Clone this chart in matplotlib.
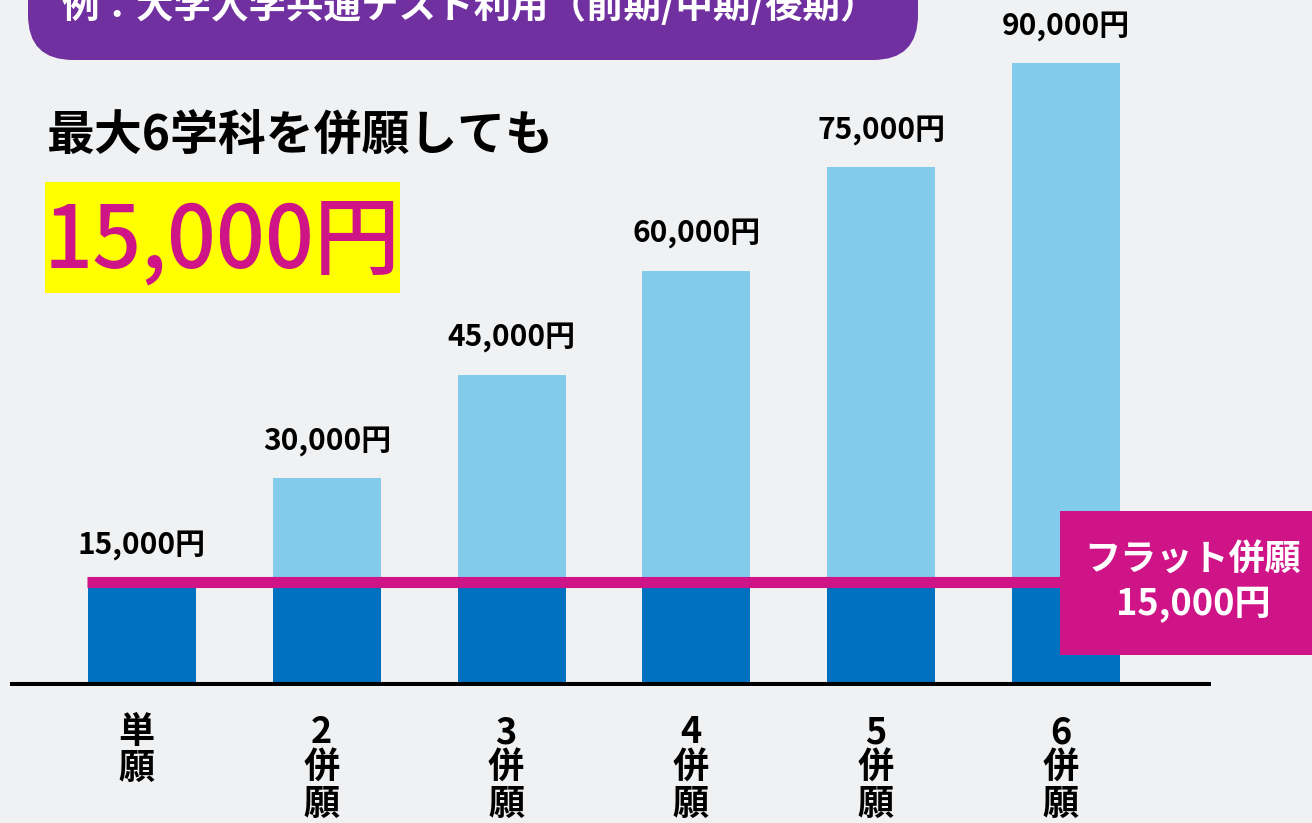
import matplotlib
matplotlib.use('Agg')
import matplotlib.pyplot as plt
from matplotlib.patches import Rectangle, FancyBboxPatch
import numpy as np

plt.rcParams['font.family'] = ['Noto Sans CJK JP', 'DejaVu Sans']

# data
categories = ['単\n願', '2\n併\n願', '3\n併\n願', '4\n併\n願', '5\n併\n願', '6\n併\n願']
totals = [15000, 30000, 45000, 60000, 75000, 90000]
flat_fee = 15000
header_text = '例：大学入学共通テスト利用（前期/中期/後期）'
lead_text = '最大6学科を併願しても'
flat_label = 'フラット併願\n15,000円'

BG = '#f0f1f3'
DARK = '#0070c0'
LIGHT = '#82cbea'
PINK = '#cf1487'
PURPLE = '#7030a0'

W, H = 1312, 823
fig = plt.figure(figsize=(W / 100, H / 100), dpi=100, facecolor=BG)

# bar axes: y=0 sits on the black baseline
base_px = 686
ax = fig.add_axes([0, (H - base_px) / H, 1, base_px / H])
ax.set_facecolor(BG)
px_per_unit = 184.8
first_px = 142
ax.set_xlim(-first_px / px_per_unit, (W - first_px) / px_per_unit)
ax.set_ylim(0, 90000 * base_px / 623)
ax.axis('off')

x = np.arange(len(categories))
tot = np.array(totals)
ax.bar(x, [flat_fee] * len(x), width=0.584, color=DARK, zorder=2)
ax.bar(x, tot - flat_fee, bottom=flat_fee, width=0.584, color=LIGHT, zorder=2)

ax.axhline(0, xmin=10 / W, xmax=1211 / W, color='black', lw=5.8, zorder=4,
           solid_capstyle='butt')
ax.axhline(flat_fee, xmin=87 / W, xmax=1062 / W, color=PINK, lw=8, zorder=3,
           solid_capstyle='butt')

for i, v in enumerate(totals):
    ax.annotate(f'{v:,}円', (i, v), xytext=(0, 20), textcoords='offset points',
                ha='center', va='baseline', fontsize=21.5, fontweight='bold')
    ax.annotate(categories[i], (i, 0), xytext=(-4, -20.5), textcoords='offset points',
                ha='center', va='top', fontsize=26, fontweight='bold',
                linespacing=0.95, annotation_clip=False)

# overlay in pixel coords for the decorations
ov = fig.add_axes([0, 0, 1, 1], zorder=5)
ov.set_xlim(0, W)
ov.set_ylim(H, 0)
ov.axis('off')
ov.patch.set_alpha(0)

ov.add_patch(FancyBboxPatch((28, -80), 890, 140, boxstyle='round,pad=0,rounding_size=45',
                            fc=PURPLE, ec='none'))
ov.text(62, 6, header_text, color='white', fontsize=27, fontweight='bold',
        ha='left', va='center')

ov.text(47, 135, lead_text, color='black', fontsize=34.5, fontweight='bold',
        ha='left', va='center')
ov.add_patch(Rectangle((45, 182), 355, 111, fc='#ffff00', ec='none'))
ov.text(222, 243, '15,000円', color=PINK, fontsize=62, fontweight='medium',
        ha='center', va='center')

ov.add_patch(Rectangle((1060, 511), 260, 144, fc=PINK, ec='none'))
ov.text(1193, 582, flat_label, color='white', fontsize=26, fontweight='bold',
        ha='center', va='center', linespacing=1.25)

fig.savefig('out.png', dpi=100, facecolor=BG)
